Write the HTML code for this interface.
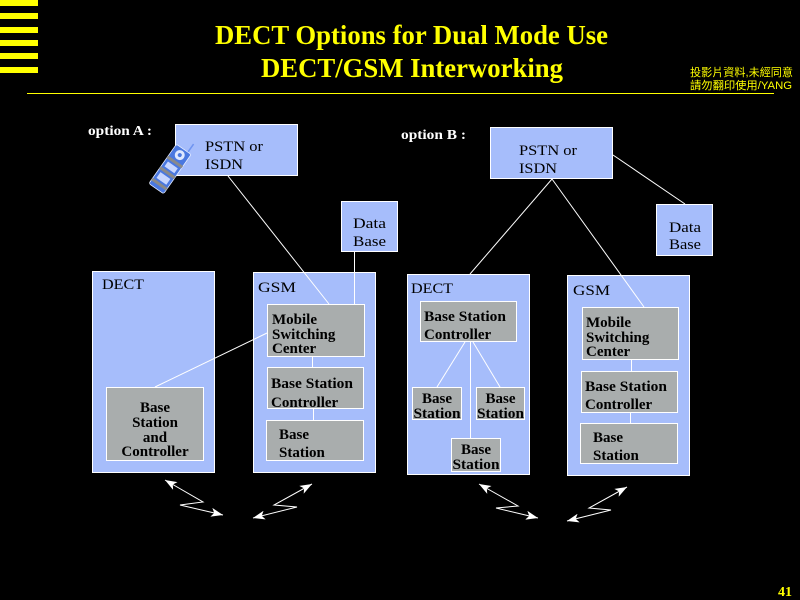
<!DOCTYPE html>
<html><head><meta charset="utf-8"><style>
html,body{margin:0;padding:0;background:#000;}
svg{display:block;}
text{font-family:"Liberation Serif","Noto Serif CJK SC",serif;}
.bx{fill:#a6bdfb;stroke:#fff;stroke-width:1;}
.gr{fill:#a9adad;stroke:#fff;stroke-width:1;}
.t{font-size:15px;font-weight:bold;fill:#000;}
.h{font-size:15px;fill:#000;}
.ln{stroke:#fff;stroke-width:1;fill:none;}
</style></head><body>
<svg width="800" height="600" viewBox="0 0 800 600" xmlns="http://www.w3.org/2000/svg">
<defs>
<marker id="ah" markerUnits="userSpaceOnUse" markerWidth="13" markerHeight="9" refX="12" refY="4.5" orient="auto-start-reverse">
<path d="M0,0 L12,4.5 L0,9 L3,4.5 z" fill="#fff"/>
</marker>
</defs>
<rect width="800" height="600" fill="#000"/>
<!-- stripes -->
<g fill="#ffff00">
<rect x="0" y="0" width="38" height="6"/>
<rect x="0" y="13" width="38" height="6"/>
<rect x="0" y="27" width="38" height="6"/>
<rect x="0" y="40" width="38" height="6"/>
<rect x="0" y="53" width="38" height="6"/>
<rect x="0" y="67" width="38" height="6"/>
</g>
<!-- title -->
<text x="411.5" y="44" text-anchor="middle" font-size="27" font-weight="bold" fill="#ffff00" textLength="393" lengthAdjust="spacingAndGlyphs">DECT Options for Dual Mode Use</text>
<text x="412" y="77" text-anchor="middle" font-size="27" font-weight="bold" fill="#ffff00" textLength="302" lengthAdjust="spacingAndGlyphs">DECT/GSM Interworking</text>
<text x="690" y="76" font-size="11" fill="#ffff00" style='font-family:"Liberation Sans","Noto Sans CJK TC",sans-serif' textLength="103" lengthAdjust="spacingAndGlyphs">投影片資料,未經同意</text>
<text x="690" y="89" font-size="11" fill="#ffff00" style='font-family:"Liberation Sans","Noto Sans CJK TC",sans-serif' textLength="102" lengthAdjust="spacingAndGlyphs">請勿翻印使用/YANG</text>
<line x1="27" y1="93.5" x2="774" y2="93.5" stroke="#ffff00" stroke-width="1"/>

<!-- ===== Option A ===== -->
<text x="88" y="135" font-size="14" font-weight="bold" fill="#fff" textLength="64" lengthAdjust="spacingAndGlyphs">option A :</text>

<rect class="bx" x="175.5" y="124.5" width="122" height="51"/>
<text class="h" x="205" y="151" textLength="58" lengthAdjust="spacingAndGlyphs">PSTN or</text>
<text class="h" x="205" y="169" textLength="38" lengthAdjust="spacingAndGlyphs">ISDN</text>

<rect class="bx" x="341.5" y="201.5" width="56" height="50"/>
<text class="h" x="353" y="228" textLength="33" lengthAdjust="spacingAndGlyphs">Data</text>
<text class="h" x="353" y="246" textLength="33" lengthAdjust="spacingAndGlyphs">Base</text>

<!-- phone -->
<g transform="translate(170,169) rotate(35)">
<line x1="5" y1="-22" x2="5" y2="-34" stroke="#6f94f0" stroke-width="1.5"/>
<rect x="-9" y="-24" width="18" height="48" rx="2" fill="#4a78e0" stroke="#e8eeff" stroke-width="0.8"/>
<circle cx="0" cy="-17" r="5" fill="#dfe8ff"/>
<circle cx="0" cy="-17" r="2" fill="#4a78e0"/>
<rect x="-9" y="-10" width="18" height="3" fill="#8a8a8a"/>
<rect x="-6" y="-5" width="12" height="6" fill="#c8d6ff"/>
<rect x="-9" y="3" width="18" height="3" fill="#8a8a8a"/>
<rect x="-6" y="8" width="12" height="7" fill="#c8d6ff"/>
<rect x="-9" y="17" width="18" height="3" fill="#8a8a8a"/>
</g>

<rect class="bx" x="92.5" y="271.5" width="122" height="201"/>
<text class="h" x="102" y="289" textLength="42" lengthAdjust="spacingAndGlyphs">DECT</text>
<rect class="gr" x="106.5" y="387.5" width="97" height="73"/>
<g class="t" text-anchor="middle">
<text x="155" y="412">Base</text>
<text x="155" y="427">Station</text>
<text x="155" y="442">and</text>
<text x="155" y="456">Controller</text>
</g>

<rect class="bx" x="253.5" y="272.5" width="122" height="200"/>
<text class="h" x="258" y="292" textLength="38" lengthAdjust="spacingAndGlyphs">GSM</text>
<rect class="gr" x="267.5" y="304.5" width="97" height="52"/>
<text class="t" x="272" y="324">Mobile</text>
<text class="t" x="272" y="339">Switching</text>
<text class="t" x="272" y="353">Center</text>
<rect class="gr" x="267.5" y="367.5" width="96" height="41"/>
<text class="t" x="271" y="388" textLength="82" lengthAdjust="spacingAndGlyphs">Base Station</text>
<text class="t" x="271" y="407">Controller</text>
<rect class="gr" x="266.5" y="420.5" width="97" height="40"/>
<text class="t" x="279" y="439">Base</text>
<text class="t" x="279" y="457">Station</text>

<!-- connectors A (on top) -->
<line class="ln" x1="228" y1="176" x2="329" y2="304"/>
<line class="ln" x1="354.5" y1="251" x2="354.5" y2="304"/>
<line class="ln" x1="155" y1="387" x2="267" y2="333"/>
<line class="ln" x1="312.5" y1="357" x2="312.5" y2="367"/>
<line class="ln" x1="313.5" y1="409" x2="313.5" y2="420"/>

<!-- lightning A -->
<polyline class="ln" points="165,480 203,502 180,505 223,515" marker-start="url(#ah)" marker-end="url(#ah)"/>
<polyline class="ln" points="312,484 274,505 297,507 253,518" marker-start="url(#ah)" marker-end="url(#ah)"/>

<!-- ===== Option B ===== -->
<text x="401" y="139" font-size="14" font-weight="bold" fill="#fff" textLength="65" lengthAdjust="spacingAndGlyphs">option B :</text>

<rect class="bx" x="490.5" y="127.5" width="122" height="51"/>
<text class="h" x="519" y="155" textLength="58" lengthAdjust="spacingAndGlyphs">PSTN or</text>
<text class="h" x="519" y="173" textLength="38" lengthAdjust="spacingAndGlyphs">ISDN</text>

<rect class="bx" x="656.5" y="204.5" width="56" height="51"/>
<text class="h" x="669" y="232" textLength="32" lengthAdjust="spacingAndGlyphs">Data</text>
<text class="h" x="669" y="249" textLength="32" lengthAdjust="spacingAndGlyphs">Base</text>

<rect class="bx" x="407.5" y="274.5" width="122" height="200"/>
<text class="h" x="411" y="293" textLength="42" lengthAdjust="spacingAndGlyphs">DECT</text>
<rect class="gr" x="420.5" y="301.5" width="96" height="40"/>
<text class="t" x="424" y="321" textLength="82" lengthAdjust="spacingAndGlyphs">Base Station</text>
<text class="t" x="424" y="339">Controller</text>
<rect class="gr" x="412.5" y="387.5" width="49" height="32"/>
<text class="t" x="437" y="403" text-anchor="middle">Base</text>
<text class="t" x="437" y="418" text-anchor="middle" textLength="47" lengthAdjust="spacingAndGlyphs">Station</text>
<rect class="gr" x="476.5" y="387.5" width="48" height="32"/>
<text class="t" x="500.5" y="403" text-anchor="middle">Base</text>
<text class="t" x="500.5" y="418" text-anchor="middle" textLength="47" lengthAdjust="spacingAndGlyphs">Station</text>
<rect class="gr" x="451.5" y="438.5" width="49" height="33"/>
<text class="t" x="476" y="454" text-anchor="middle">Base</text>
<text class="t" x="476" y="469" text-anchor="middle" textLength="47" lengthAdjust="spacingAndGlyphs">Station</text>

<rect class="bx" x="567.5" y="275.5" width="122" height="200"/>
<text class="h" x="573" y="295" textLength="37" lengthAdjust="spacingAndGlyphs">GSM</text>
<rect class="gr" x="582.5" y="307.5" width="96" height="52"/>
<text class="t" x="586" y="327">Mobile</text>
<text class="t" x="586" y="342">Switching</text>
<text class="t" x="586" y="356">Center</text>
<rect class="gr" x="581.5" y="371.5" width="96" height="41"/>
<text class="t" x="585" y="391" textLength="82" lengthAdjust="spacingAndGlyphs">Base Station</text>
<text class="t" x="585" y="409">Controller</text>
<rect class="gr" x="580.5" y="423.5" width="97" height="40"/>
<text class="t" x="593" y="442">Base</text>
<text class="t" x="593" y="460">Station</text>

<!-- connectors B (on top) -->
<line class="ln" x1="552" y1="179" x2="470" y2="274"/>
<line class="ln" x1="552" y1="179" x2="644" y2="307"/>
<line class="ln" x1="613" y1="155" x2="685" y2="204"/>
<line class="ln" x1="465" y1="342" x2="437" y2="387"/>
<line class="ln" x1="473" y1="342" x2="500" y2="387"/>
<line class="ln" x1="470.5" y1="342" x2="470.5" y2="438"/>
<line class="ln" x1="631.5" y1="360" x2="631.5" y2="371"/>
<line class="ln" x1="630.5" y1="413" x2="630.5" y2="423"/>

<!-- lightning B -->
<polyline class="ln" points="479,484 518,506 496,508 538,518" marker-start="url(#ah)" marker-end="url(#ah)"/>
<polyline class="ln" points="627,487 589,508 611,510 567,521" marker-start="url(#ah)" marker-end="url(#ah)"/>

<!-- page number -->
<text x="778" y="596" font-size="14" font-weight="bold" fill="#ffff00">41</text>
</svg>
</body></html>
